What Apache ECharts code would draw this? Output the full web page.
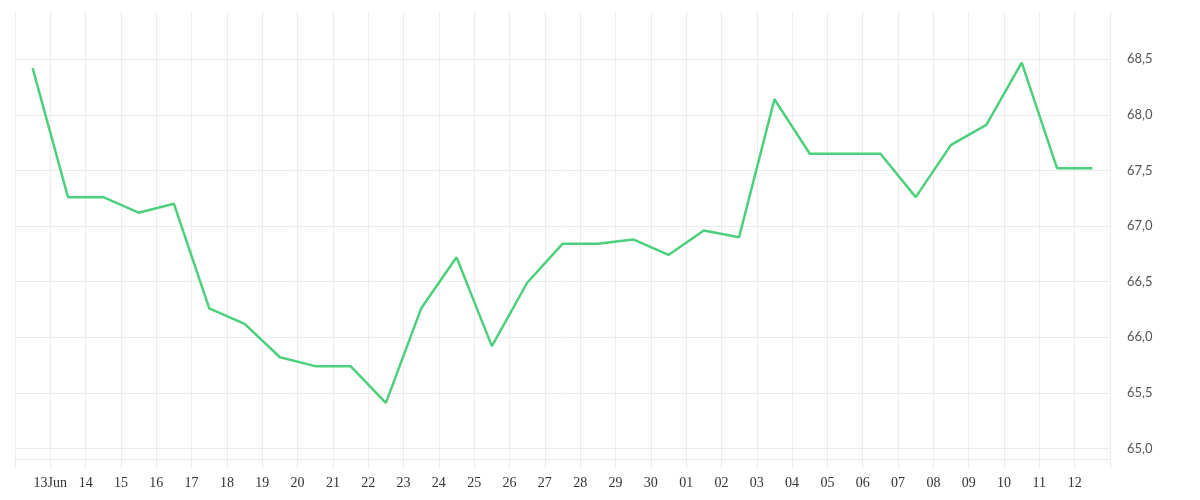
<!DOCTYPE html>
<html>
<head>
<meta charset="utf-8">
<script src="https://cdn.jsdelivr.net/npm/echarts@6/dist/echarts.min.js"></script>
<style>
  html, body { margin: 0; padding: 0; background: #fff; }
  #main { width: 1200px; height: 500px; }
</style>
</head>
<body>
<div id="main"></div>
<script>
// tick labels at day boundaries (12 Jun .. 13 Jul); first and last are not shown
var tickLabels = ['', '13Jun', '14', '15', '16', '17', '18', '19', '20', '21', '22', '23', '24', '25', '26', '27', '28', '29', '30',
    '01', '02', '03', '04', '05', '06', '07', '08', '09', '10', '11', '12', ''];

// one value per day, plotted at midday (12 Jun .. 12 Jul)
var dailyValues = [68.42, 67.26, 67.26, 67.12, 67.20, 66.26, 66.12, 65.82, 65.74, 65.74, 65.41,
    66.26, 66.72, 65.92, 66.49, 66.84, 66.84, 66.88, 66.74, 66.96, 66.90,
    68.14, 67.65, 67.65, 67.65, 67.26, 67.73, 67.91, 68.47, 67.52, 67.52];

var gridColor = '#ececec';

var myChart = echarts.init(document.getElementById('main'));
var option = {
    animation: false,
    grid: {
        left: 15,
        right: 90,
        top: 12,
        bottom: 41
    },
    xAxis: {
        type: 'value',
        min: 0,
        max: tickLabels.length - 1,
        interval: 1,
        axisLine: { show: true, lineStyle: { color: gridColor } },
        axisTick: { show: true, length: 10, lineStyle: { color: gridColor } },
        splitLine: { show: true, lineStyle: { color: gridColor } },
        axisLabel: {
            margin: 17,
            fontFamily: 'Liberation Serif',
            fontSize: 14,
            color: '#333',
            formatter: function (v) {
                return tickLabels[Math.round(v)] || '';
            }
        }
    },
    yAxis: {
        type: 'value',
        position: 'right',
        min: 64.905,
        max: 68.925,
        splitNumber: 8,
        axisLine: { show: false },
        axisTick: { show: false },
        splitLine: {
            show: true,
            showMinLine: false,
            showMaxLine: false,
            lineStyle: { color: gridColor }
        },
        axisLabel: {
            margin: 17,
            padding: [4, 0, 0, 0],
            fontFamily: 'Lato',
            fontSize: 13,
            color: '#555',
            showMinLabel: false,
            showMaxLabel: false,
            formatter: function (v) {
                return v.toFixed(1).replace('.', ',');
            }
        }
    },
    series: [{
        type: 'line',
        symbol: 'none',
        lineStyle: { color: '#4dd07c', width: 2.5 },
        data: dailyValues.map(function (v, i) { return [i + 0.5, v]; })
    }]
};
myChart.setOption(option);
</script>
</body>
</html>
